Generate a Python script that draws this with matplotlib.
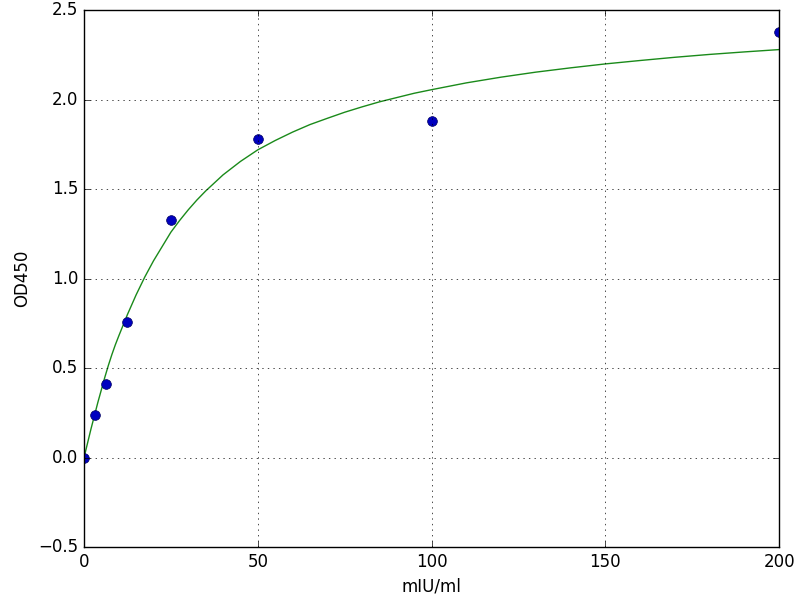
import numpy as np
import matplotlib
matplotlib.use("Agg")
import matplotlib.pyplot as plt

# measured standards
conc = [0, 3.125, 6.25, 12.5, 25, 50, 100, 200]
od = [0.0, 0.24, 0.41, 0.76, 1.33, 1.78, 1.88, 2.38]

# fitted curve
curve_x = [0, 1, 2, 3, 4, 5, 6, 7, 8, 9, 10, 12.5, 15, 17.5, 20, 22.5, 25,
           27.5, 30, 32.5, 35, 37.5, 40, 45, 50, 55, 60, 65, 70, 75, 80, 85,
           90, 95, 100, 110, 120, 130, 140, 150, 160, 170, 180, 190, 200]
curve_y = [0.0, 0.08, 0.16, 0.235, 0.31, 0.38, 0.45, 0.515, 0.575, 0.63,
           0.68, 0.80, 0.91, 1.01, 1.10, 1.18, 1.26, 1.325, 1.385, 1.44,
           1.49, 1.535, 1.58, 1.655, 1.72, 1.772, 1.819, 1.861, 1.896, 1.93,
           1.96, 1.988, 2.012, 2.036, 2.056, 2.094, 2.126, 2.154, 2.178,
           2.2, 2.219, 2.237, 2.253, 2.267, 2.28]

plt.style.use('classic')
plt.rcParams['font.family'] = 'DejaVu Sans'

fig = plt.figure(figsize=(8, 6), dpi=100, facecolor='white')
ax = fig.add_axes([0.105, 0.088, 0.869, 0.895])

ax.plot(curve_x, curve_y, '-', color='#1a8a1a')
ax.plot(conc, od, 'o', color='#0000c0', markeredgecolor='#000060', markersize=7)

ax.set_xlim(0, 200)
ax.set_ylim(-0.5, 2.5)
ax.set_xticks([0, 50, 100, 150, 200])
ax.set_yticks(np.arange(-0.5, 2.51, 0.5))
ax.grid(True, color='black', linestyle=':')
ax.set_xlabel("mIU/ml")
ax.set_ylabel("OD450")

fig.savefig('out.png', dpi=100, facecolor='white')
